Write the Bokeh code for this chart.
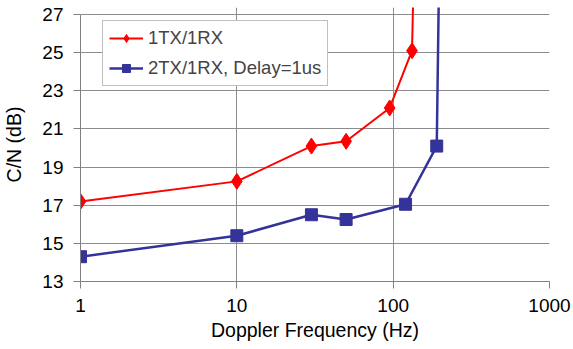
from bokeh.plotting import figure
from bokeh.models import FixedTicker, Range1d, Legend, LegendItem
from bokeh.embed import file_html
from bokeh.resources import INLINE

# Data
freq_1tx = [1, 10, 30, 50, 95, 132, 145]
cn_1tx = [17.2, 18.25, 20.1, 20.35, 22.1, 25.1, 40]
freq_2tx = [1, 10, 30, 50, 120, 190, 205]
cn_2tx = [14.3, 15.4, 16.5, 16.25, 17.05, 20.1, 40]
x_ticks = [1, 10, 100, 1000]
y_ticks = [13, 15, 17, 19, 21, 23, 25, 27]
label_1tx = "1TX/1RX"
label_2tx = "2TX/1RX, Delay=1us"
x_title = "Doppler Frequency (Hz)"
y_title = "C/N (dB)"

FONT = "Liberation Sans"
RED = "#ff0000"
BLUE = "#333399"
GRID = "#8c8c8c"

p = figure(width=573, height=349, x_axis_type="log",
           x_range=Range1d(1, 1000), y_range=Range1d(13, 27.367),
           output_backend="svg", toolbar_location=None,
           min_border_left=80, min_border_right=24, min_border_top=7,
           min_border_bottom=68)
p.outline_line_color = None
p.background_fill_color = "white"

r1 = p.line(freq_1tx, cn_1tx, line_color=RED, line_width=2)
m1 = p.scatter(freq_1tx, cn_1tx, marker="diamond", size=16, fill_color=RED, line_color=RED)
r2 = p.line(freq_2tx, cn_2tx, line_color=BLUE, line_width=2.5)
m2 = p.scatter(freq_2tx, cn_2tx, marker="square", size=12, fill_color=BLUE, line_color=BLUE)

for ax in (p.xaxis[0], p.yaxis[0]):
    ax.axis_line_color = "#808080"
    ax.major_tick_line_color = "#808080"
    ax.major_tick_out = 7
    ax.major_tick_in = 0
    ax.minor_tick_line_color = None
    ax.major_label_text_font = FONT
    ax.major_label_text_font_size = "19px"
    ax.major_label_text_color = "black"
    ax.axis_label_text_font = FONT
    ax.axis_label_text_font_size = "19.5px"
    ax.axis_label_text_font_style = "normal"
    ax.axis_label_text_color = "black"

p.xaxis.ticker = FixedTicker(ticks=x_ticks)
p.xaxis.major_label_overrides = {t: str(t) for t in x_ticks}
p.yaxis.ticker = FixedTicker(ticks=y_ticks)
p.yaxis.bounds = (13, 27)
p.xaxis.axis_label = x_title
p.yaxis.axis_label = y_title
p.xaxis.major_label_standoff = 10
p.yaxis.major_label_standoff = 10
p.xaxis.axis_label_standoff = 4
p.yaxis.axis_label_standoff = 14

p.xgrid.ticker = FixedTicker(ticks=x_ticks)
p.ygrid.ticker = FixedTicker(ticks=y_ticks)
p.xgrid.grid_line_color = GRID
p.ygrid.grid_line_color = GRID
p.xgrid.grid_line_width = 1
p.ygrid.grid_line_width = 1

legend = Legend(items=[LegendItem(label=label_1tx, renderers=[r1, m1]),
                       LegendItem(label=label_2tx, renderers=[r2, m2])],
                location=(22, 195))
legend.border_line_color = "#808080"
legend.border_line_width = 1
legend.background_fill_alpha = 1
legend.label_text_font = FONT
legend.label_text_font_size = "18.5px"
legend.glyph_width = 34
legend.glyph_height = 20
legend.label_height = 20
legend.spacing = 8
legend.padding = 6
legend.margin = 0
legend.label_standoff = 5
p.add_layout(legend, "center")

open("out.html", "w").write(file_html(p, INLINE))
